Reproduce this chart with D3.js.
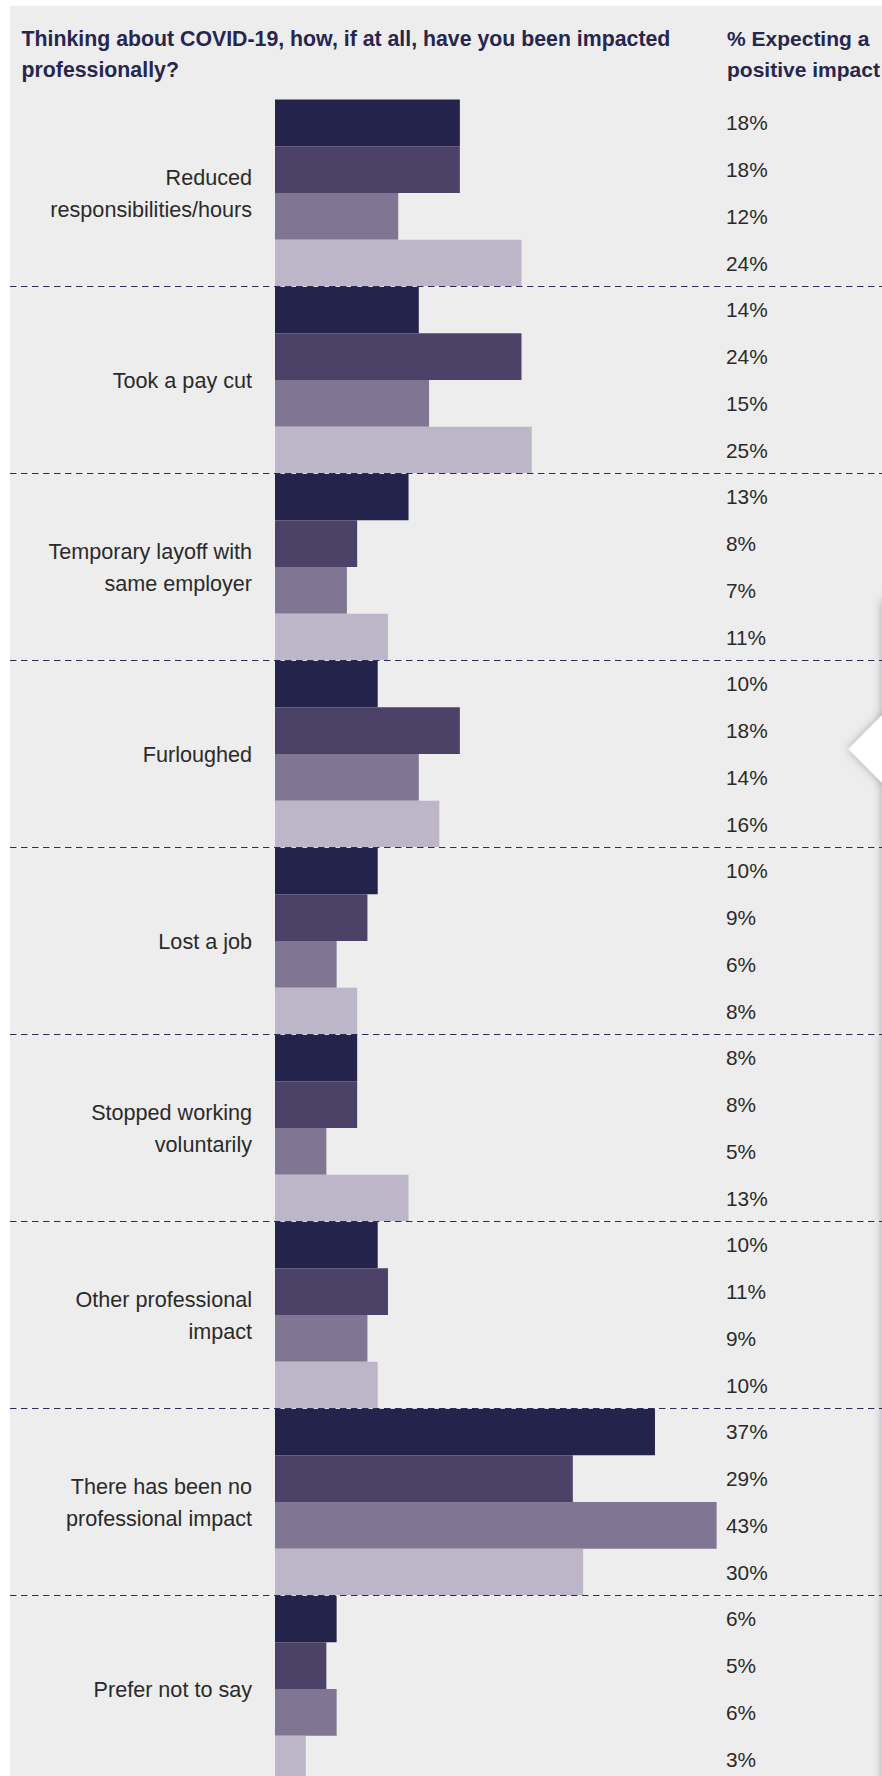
<!DOCTYPE html>
<html>
<head>
<meta charset="utf-8">
<script src="https://cdn.jsdelivr.net/npm/d3@7"></script>
<style>
  html, body { margin: 0; padding: 0; background: #ffffff; }
  svg { display: block; }
</style>
</head>
<body>
<script>
// ---------------- DATA ----------------
const categories = [
  "Reduced responsibilities/hours",
  "Took a pay cut",
  "Temporary layoff with same employer",
  "Furloughed",
  "Lost a job",
  "Stopped working voluntarily",
  "Other professional impact",
  "There has been no professional impact",
  "Prefer not to say"
];
const categoryLines = [
  ["Reduced", "responsibilities/hours"],
  ["Took a pay cut"],
  ["Temporary layoff with", "same employer"],
  ["Furloughed"],
  ["Lost a job"],
  ["Stopped working", "voluntarily"],
  ["Other professional", "impact"],
  ["There has been no", "professional impact"],
  ["Prefer not to say"]
];
const series = ["Series 1", "Series 2", "Series 3", "Series 4"];
const series1 = [18, 14, 13, 10, 10, 8, 10, 37, 6];
const series2 = [18, 24, 8, 18, 9, 8, 11, 29, 5];
const series3 = [12, 15, 7, 14, 6, 5, 9, 43, 6];
const series4 = [24, 25, 11, 16, 8, 13, 10, 30, 3];
const seriesValues = [series1, series2, series3, series4];
const titleLines = ["Thinking about COVID-19, how, if at all, have you been impacted", "professionally?"];
const valueHeaderLines = ["% Expecting a", "positive impact"];

// ---------------- LAYOUT ----------------
const W = 882, H = 1776;
const colors = ["#23234b", "#4c4268", "#807592", "#bdb6c8"];
const FONT = "'Liberation Sans', Arial, Helvetica, sans-serif";
const groupH = 187;
const top0 = 99.5;

const svg = d3.select("body").append("svg")
  .attr("width", W).attr("height", H)
  .attr("viewBox", `0 0 ${W} ${H}`);

const defs = svg.append("defs");
const f = defs.append("filter").attr("id", "shadow")
  .attr("x", "-50%").attr("y", "-50%").attr("width", "200%").attr("height", "200%");
f.append("feDropShadow").attr("dx", 0).attr("dy", 0)
  .attr("stdDeviation", 5).attr("flood-color", "#000").attr("flood-opacity", 0.3);

// background panel
svg.append("rect").attr("x", 0).attr("y", 0).attr("width", W).attr("height", H).attr("fill", "#ffffff");
svg.append("rect").attr("x", 10).attr("y", 6).attr("width", W - 10).attr("height", H - 6).attr("fill", "#ededed");

// scales
const x = d3.scaleLinear().domain([0, 100]).range([275, 275 + 1027]);
const y0 = d3.scaleBand().domain(categories).range([top0, top0 + groupH * categories.length]).padding(0);
const y1 = d3.scaleBand().domain(series).range([0, y0.bandwidth()]).padding(0);

// data rows
const rows = categories.map((c, i) => ({
  cat: c, lines: categoryLines[i],
  vals: series.map((s, j) => ({ s, j, v: seriesValues[j][i], cat: c }))
}));

const g = svg.append("g");
const grp = g.selectAll("g.grp").data(rows).join("g")
  .attr("class", "grp")
  .attr("transform", d => `translate(0,${y0(d.cat)})`);

grp.selectAll("rect").data(d => d.vals).join("rect")
  .attr("x", x(0))
  .attr("y", d => y1(d.s))
  .attr("width", d => x(d.v) - x(0))
  .attr("height", y1.bandwidth())
  .attr("fill", d => colors[d.j]);

// value labels
grp.selectAll("text.val").data(d => d.vals).join("text")
  .attr("class", "val")
  .attr("x", 726)
  .attr("y", d => y1(d.s) + y1.bandwidth() / 2 + 7.6)
  .attr("font-family", FONT)
  .attr("font-size", 20.8)
  .attr("fill", "#2a2a2a")
  .text(d => d.v + "%");

// category labels
grp.each(function (d) {
  const n = d.lines.length;
  const t = d3.select(this).append("text")
    .attr("text-anchor", "end")
    .attr("font-family", FONT)
    .attr("font-size", 21.6)
    .attr("fill", "#2a2a2a");
  d.lines.forEach((ln, k) => {
    t.append("tspan")
      .attr("x", 252)
      .attr("y", y0.bandwidth() / 2 + 7.5 + (k - (n - 1) / 2) * 32)
      .text(ln);
  });
});

// dashed separators
const seps = categories.slice(1);
g.selectAll("line.sepw").data(seps).join("line")
  .attr("x1", 10).attr("x2", W)
  .attr("y1", d => Math.round(y0(d)) - 0.5).attr("y2", d => Math.round(y0(d)) - 0.5)
  .attr("stroke", "#ffffff").attr("stroke-width", 1).attr("opacity", 0.7);
g.selectAll("line.sep").data(seps).join("line")
  .attr("x1", 10).attr("x2", W)
  .attr("y1", d => Math.round(y0(d)) - 0.5).attr("y2", d => Math.round(y0(d)) - 0.5)
  .attr("stroke", "#2c2c5a").attr("stroke-width", 1.2)
  .attr("stroke-dasharray", "6.5,4.5");

// headers
const title = svg.append("text")
  .attr("font-family", FONT).attr("font-size", 21.3).attr("font-weight", "bold")
  .attr("fill", "#26264f");
titleLines.forEach((ln, k) => {
  title.append("tspan").attr("x", 21.5).attr("y", 45.7 + k * 31.6).text(ln);
});
const vh = svg.append("text")
  .attr("font-family", FONT).attr("font-size", 21).attr("font-weight", "bold")
  .attr("fill", "#26264f");
valueHeaderLines.forEach((ln, k) => {
  vh.append("tspan").attr("x", 727).attr("y", 45.7 + k * 31.6).text(ln);
});

// off-canvas popup panel edge with pointer
svg.append("rect").attr("x", W).attr("y", 600).attr("width", 40).attr("height", H)
  .attr("fill", "#ffffff").attr("filter", "url(#shadow)");
svg.append("path")
  .attr("d", `M${W + 2},713 L848.5,749 L${W + 2},785 Z`)
  .attr("fill", "#ffffff").attr("filter", "url(#shadow)");
</script>
</body>
</html>
